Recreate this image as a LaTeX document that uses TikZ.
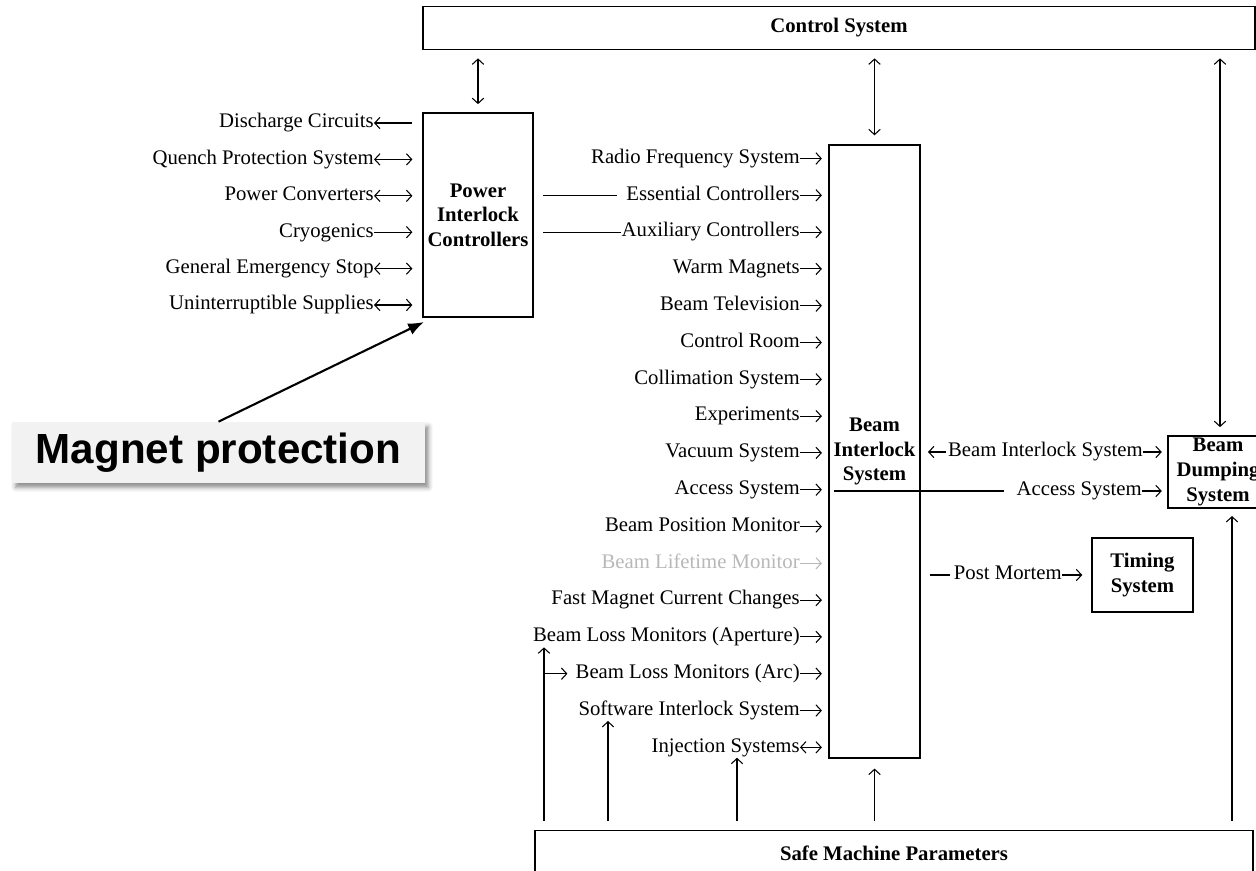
\documentclass[tikz,border=0pt]{standalone}
\usepackage{fontspec}
\setmainfont{Liberation Serif}
\newfontfamily\calloutfont{Liberation Sans}
\usetikzlibrary{arrows.meta,shadows.blur}

\definecolor{calloutgray}{RGB}{242,242,242}

\begin{document}
\begin{tikzpicture}[
	x=0.02cm, y=-0.02cm,
	>={Straight Barb[length=3pt,width=6.5pt]},
	every node/.style = {font=\fontsize{11.8}{14}\selectfont},
	sysbox/.style  = {rectangle, draw, line width=1.1pt, align=center, inner sep=1pt,
		font=\fontsize{11.8}{14}\selectfont\bfseries},
	inlbl/.style   = {anchor=east, inner sep=0pt, text height=8.5pt, text depth=3pt},
	link/.style    = {line width=0.6pt},
	dimmed/.style  = {black!28},
	callout/.style = {rectangle, fill=calloutgray, minimum width=8.26cm, minimum height=1.22cm,
		font=\calloutfont\bfseries\fontsize{24}{28}\selectfont,
		blur shadow={shadow xshift=2pt, shadow yshift=-2.5pt, shadow blur radius=2.5pt, shadow opacity=45}}
	]
	\clip (0,0) rectangle (1256,870);
	
	% ===================== Systems =====================
	\node[sysbox, minimum width=16.64cm, minimum height=0.86cm] (ctrl) at (839,28)    {Control System};
	\node[sysbox, minimum width=2.2cm,   minimum height=4.08cm] (pic)  at (478,215)   {Power\\Interlock\\Controllers};
	\node[sysbox, minimum width=1.82cm,  minimum height=12.26cm] (bis) at (874.5,451.5) {Beam\\Interlock\\System};
	\node[sysbox, minimum width=2.0cm,   minimum height=1.44cm] (bds)  at (1218,472)  {Beam\\Dumping\\System};
	\node[sysbox, minimum width=2.02cm,  minimum height=1.48cm] (tim)  at (1142.5,575) {Timing\\System};
	\node[sysbox, minimum width=14.36cm, minimum height=0.9cm]  (smp)  at (894,853)   {Safe Machine Parameters};
	
	% ===================== Power interlock inputs =====================
	\node[inlbl] (dc)   at (374,123)   {Discharge Circuits};
	\node[inlbl] (qps)  at (374,159.4) {Quench Protection System};
	\node[inlbl] (pc)   at (374,195.8) {Power Converters};
	\node[inlbl] (cryo) at (374,232.2) {Cryogenics};
	\node[inlbl] (ges)  at (374,268.6) {General Emergency Stop};
	\node[inlbl] (ups)  at (374,305)   {Uninterruptible Supplies};
	
	\draw[link, <-, shorten >=5.5pt] (dc.east) -- (pic.west |- dc.east);
	\draw[link, <->, shorten >=5.5pt] (qps.east) -- (pic.west |- qps.east);
	\draw[link, <->, shorten >=5.5pt] (pc.east) -- (pic.west |- pc.east);
	\draw[link, ->, shorten >=5.5pt] (cryo.east) -- (pic.west |- cryo.east);
	\draw[link, <->, shorten >=5.5pt] (ges.east) -- (pic.west |- ges.east);
	\draw[link, <->, shorten >=5.5pt] (ups.east) -- (pic.west |- ups.east);
	
	% ===================== Beam interlock inputs =====================
	\node[inlbl] (rf)     at (800,158.5) {Radio Frequency System};
	\node[inlbl] (ec)     at (800,195.3) {Essential Controllers};
	\node[inlbl] (ac)     at (800,232.1) {Auxiliary Controllers};
	\node[inlbl] (wm)     at (800,268.9) {Warm Magnets};
	\node[inlbl] (btv)    at (800,305.7) {Beam Television};
	\node[inlbl] (cr)     at (800,342.5) {Control Room};
	\node[inlbl] (coll)   at (800,379.3) {Collimation System};
	\node[inlbl] (exper)  at (800,416.1) {Experiments};
	\node[inlbl] (vac)    at (800,452.9) {Vacuum System};
	\node[inlbl] (acc)    at (800,489.7) {Access System};
	\node[inlbl] (bpm)    at (800,526.5) {Beam Position Monitor};
	\node[inlbl, dimmed] (blt) at (800,563.3) {Beam Lifetime Monitor};
	\node[inlbl] (fmcc)   at (800,600.1) {Fast Magnet Current Changes};
	\node[inlbl] (blma)   at (800,636.9) {Beam Loss Monitors (Aperture)};
	\node[inlbl] (blmarc) at (800,673.7) {Beam Loss Monitors (Arc)};
	\node[inlbl] (sis)    at (800,710.5) {Software Interlock System};
	\node[inlbl] (inj)    at (800,747.3) {Injection Systems};
	
	\draw[link, ->, shorten >=3.5pt] (rf.east) -- (bis.west |- rf.east);
	\draw[link, ->, shorten >=3.5pt] (ec.east) -- (bis.west |- ec.east);
	\draw[link, ->, shorten >=3.5pt] (ac.east) -- (bis.west |- ac.east);
	\draw[link, ->, shorten >=3.5pt] (wm.east) -- (bis.west |- wm.east);
	\draw[link, ->, shorten >=3.5pt] (btv.east) -- (bis.west |- btv.east);
	\draw[link, ->, shorten >=3.5pt] (cr.east) -- (bis.west |- cr.east);
	\draw[link, ->, shorten >=3.5pt] (coll.east) -- (bis.west |- coll.east);
	\draw[link, ->, shorten >=3.5pt] (exper.east) -- (bis.west |- exper.east);
	\draw[link, ->, shorten >=3.5pt] (vac.east) -- (bis.west |- vac.east);
	\draw[link, ->, shorten >=3.5pt] (acc.east) -- (bis.west |- acc.east);
	\draw[link, ->, shorten >=3.5pt] (bpm.east) -- (bis.west |- bpm.east);
	\draw[link, ->, shorten >=3.5pt, dimmed] (blt.east) -- (bis.west |- blt.east);
	\draw[link, ->, shorten >=3.5pt] (fmcc.east) -- (bis.west |- fmcc.east);
	\draw[link, ->, shorten >=3.5pt] (blma.east) -- (bis.west |- blma.east);
	\draw[link, ->, shorten >=3.5pt] (blmarc.east) -- (bis.west |- blmarc.east);
	\draw[link, ->, shorten >=3.5pt] (sis.east) -- (bis.west |- sis.east);
	\draw[link, <->, shorten >=3.5pt] (inj.east) -- (bis.west |- inj.east);
	
	% controllers feed through the power interlock
	\draw[link, shorten <=5pt, shorten >=5pt] (pic.east |- ec.west) -- (ec.west);
	\draw[link, shorten <=5pt, shorten >=0.5pt] (pic.east |- ac.west) -- (ac.west);
	
	% ===================== Beam interlock outputs =====================
	\node[inlbl] (bisr) at (1143,452) {Beam Interlock System};
	\node[inlbl] (accr) at (1142,491) {Access System};
	\node[inlbl] (pm)   at (1062,575) {Post Mortem};
	
	\draw[link, ->, shorten <=1pt, shorten >=4pt] (bisr.west) -- (bis.east |- bisr.west);
	\draw[link, ->, shorten >=3pt] (bisr.east) -- (bds.west |- bisr.east);
	\draw[link, shorten <=3.4pt, shorten >=6.8pt] (bis.west |- accr.west) -- (accr.west);
	\draw[link, ->, shorten >=3pt] (accr.east) -- (bds.west |- accr.east);
	\draw[link, shorten <=5pt, shorten >=2pt] (bis.east |- pm.west) -- (pm.west);
	\draw[link, ->, shorten >=5pt] (pm.east) -- (tim.west |- pm.east);
	
	% ===================== Control system links =====================
	\coordinate (bdstop) at (1220,0);
	\draw[link, <->, shorten <=4.5pt, shorten >=4.5pt] (ctrl.south -| pic.north) -- (pic.north);
	\draw[link, <->, shorten <=4.5pt, shorten >=5pt] (ctrl.south -| bis.north) -- (bis.north);
	\draw[link, <->, shorten <=4.5pt, shorten >=4.5pt] (ctrl.south -| bdstop) -- (bds.north -| bdstop);
	
	% ===================== Safe machine parameters =====================
	\coordinate (blmx) at (544,0);
	\coordinate (sisx) at (608,0);
	\coordinate (injx) at (737,0);
	\coordinate (bdsx) at (1232,0);
	\draw[link, ->, shorten <=5pt] (smp.north -| blmx) -- (blma.south -| blmx);
	\draw[link, ->, shorten >=4.5pt] (blmx |- blmarc.west) -- (blmarc.west);
	\draw[link, ->, shorten <=5pt] (smp.north -| sisx) -- (sis.south -| sisx);
	\draw[link, ->, shorten <=5pt] (smp.north -| injx) -- (inj.south -| injx);
	\draw[link, ->, shorten <=5pt, shorten >=5.5pt] (smp.north -| bis.south) -- (bis.south);
	\draw[link, ->, shorten <=5pt, shorten >=4pt] (smp.north -| bdsx) -- (bds.south -| bdsx);
	
	% ===================== Callout =====================
	\node[callout] (mp) at (218.5,452.5) {Magnet protection};
	\coordinate (mptip) at (424,322);
	\draw[line width=1.2pt, -{Latex[length=9pt,width=7pt]}] (mp.north) -- (mptip);
	
\end{tikzpicture}
\end{document}
